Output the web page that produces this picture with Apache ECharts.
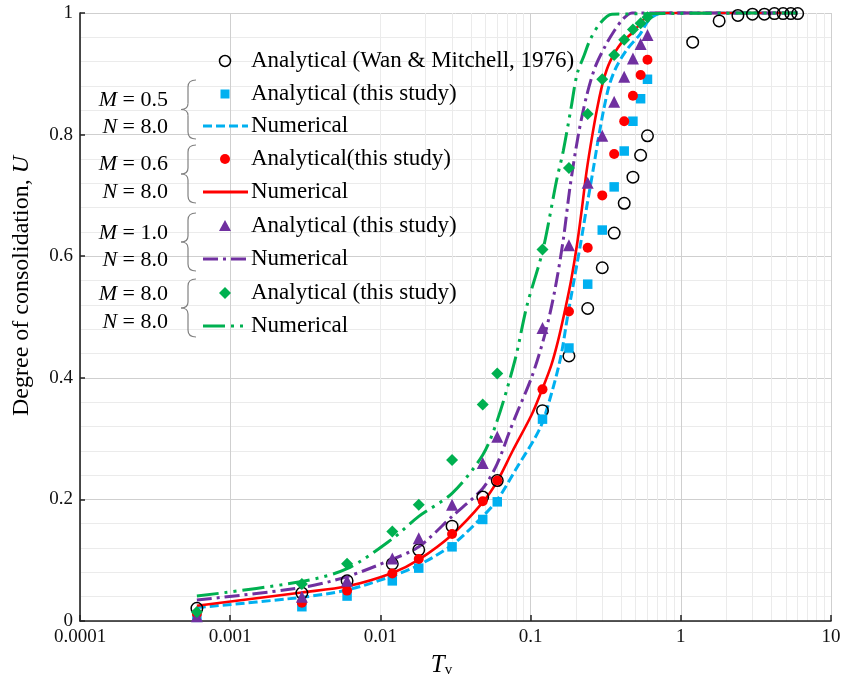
<!DOCTYPE html>
<html>
<head>
<meta charset="utf-8">
<title>Degree of consolidation vs time factor</title>
<script src="https://cdn.jsdelivr.net/npm/echarts@6/dist/echarts.min.js"></script>
<style>
  html, body { margin: 0; padding: 0; background: #fff; }
  #chart { width: 843px; height: 680px; }
</style>
</head>
<body>
<div id="chart"></div>
<script>
// Axis tick labels
const xTickLabels = ['0.0001', '0.001', '0.01', '0.1', '1', '10'];
const yTickLabels = ['0', '0.2', '0.4', '0.6', '0.8', '1'];

// Time factors of the analytical points
const tAnalytical = [0.0006, 0.003, 0.006, 0.012, 0.018, 0.03, 0.048, 0.06, 0.12, 0.18, 0.24, 0.3, 0.36, 0.42, 0.48, 0.54, 0.6];
const tWanMitchell = [0.0006, 0.003, 0.006, 0.012, 0.018, 0.03, 0.048, 0.06, 0.12, 0.18, 0.24, 0.3, 0.36, 0.42, 0.48, 0.54, 0.6,
                      1.2, 1.8, 2.4, 3.0, 3.6, 4.2, 4.8, 5.4, 6.0];

// Analytical degree of consolidation
const uWanMitchell = [0.021, 0.046, 0.066, 0.094, 0.117, 0.156, 0.204, 0.231, 0.346, 0.436, 0.514, 0.581, 0.638, 0.687, 0.730, 0.766, 0.798,
                      0.952, 0.987, 0.996, 0.998, 0.998, 0.999, 0.999, 0.999, 0.999];
const uAnaM05 = [0.006, 0.0235, 0.041, 0.066, 0.087, 0.122, 0.167, 0.196, 0.332, 0.449, 0.554, 0.643, 0.714, 0.773, 0.822, 0.859, 0.891];
const uAnaM06 = [0.012, 0.030, 0.050, 0.078, 0.102, 0.143, 0.197, 0.231, 0.381, 0.509, 0.614, 0.700, 0.768, 0.822, 0.864, 0.898, 0.923];
const uAnaM10 = [0.008, 0.040, 0.066, 0.103, 0.136, 0.191, 0.260, 0.303, 0.482, 0.618, 0.721, 0.798, 0.854, 0.895, 0.925, 0.949, 0.964];
const uAnaM80 = [0.015, 0.061, 0.094, 0.147, 0.191, 0.265, 0.356, 0.407, 0.611, 0.745, 0.834, 0.891, 0.931, 0.956, 0.973, 0.983, 0.993];

// Numerical solutions
const tNumM05 = [0.0006, 0.003, 0.006, 0.012, 0.018, 0.03, 0.048, 0.06, 0.08, 0.1155, 0.138, 0.159, 0.176, 0.1945, 0.215, 0.236, 0.258, 0.281, 0.306, 0.333, 0.37, 0.438, 0.535, 0.62, 0.75, 6];
const uNumM05 = [0.022, 0.039, 0.051, 0.074, 0.092, 0.125, 0.172, 0.199, 0.25, 0.317, 0.375, 0.435, 0.50, 0.56, 0.62, 0.68, 0.735, 0.79, 0.84, 0.88, 0.91, 0.94, 0.965, 0.99, 1.0, 1.0];

const tNumM06 = [0.0006, 0.003, 0.006, 0.012, 0.018, 0.03, 0.048, 0.06, 0.076, 0.102, 0.119, 0.137, 0.152, 0.169, 0.186, 0.204, 0.22, 0.236, 0.258, 0.281, 0.306, 0.338, 0.40, 0.488, 0.57, 0.68, 6];
const uNumM06 = [0.025, 0.047, 0.057, 0.079, 0.101, 0.142, 0.195, 0.230, 0.28, 0.34, 0.38, 0.42, 0.46, 0.51, 0.56, 0.62, 0.68, 0.74, 0.80, 0.85, 0.89, 0.92, 0.95, 0.97, 0.99, 1.0, 1.0];

const tNumM10 = [0.0006, 0.003, 0.006, 0.012, 0.018, 0.03, 0.048, 0.06, 0.073, 0.081, 0.102, 0.125, 0.145, 0.165, 0.183, 0.207, 0.234, 0.268, 0.313, 0.359, 0.412, 0.473, 6];
const uNumM10 = [0.0345, 0.055, 0.073, 0.1015, 0.122, 0.172, 0.218, 0.259, 0.314, 0.342, 0.402, 0.473, 0.544, 0.627, 0.714, 0.797, 0.86, 0.91, 0.945, 0.97, 0.99, 1.0, 1.0];

const tNumM80 = [0.0006, 0.003, 0.006, 0.012, 0.018, 0.03, 0.048, 0.06, 0.0787, 0.0942, 0.121, 0.149, 0.165, 0.186, 0.204, 0.227, 0.249, 0.29, 0.348, 6];
const uNumM80 = [0.041, 0.065, 0.086, 0.135, 0.172, 0.21, 0.273, 0.33, 0.429, 0.517, 0.611, 0.725, 0.773, 0.844, 0.90, 0.93, 0.956, 0.983, 0.998, 1.0];

const colBlue = '#00b0f0';
const colRed = '#ff0000';
const colPurple = '#7030a0';
const colGreen = '#00b050';
const serif = 'Liberation Serif';

const dashBlue = [9, 4];
const dashPurple = [15, 5, 3, 5];
const dashGreen = [22, 6, 3, 6, 3, 6];

const pairs = (t, u) => t.map((v, i) => [v, u[i]]);

// light grid lines at 2..9 within each decade
const minorX = [];
for (let d = -4; d <= 0; d++) {
  for (let k = 2; k <= 9; k++) minorX.push(Number((k * Math.pow(10, d)).toPrecision(3)));
}

const chart = echarts.init(document.getElementById('chart'), null, { renderer: 'canvas' });

function scatter(name, t, u, symbol, size, itemStyle) {
  return {
    name, type: 'scatter', data: pairs(t, u), symbol, symbolSize: size,
    itemStyle: Object.assign({ opacity: 1 }, itemStyle), clip: false, silent: true, z: 3
  };
}
function curve(name, t, u, color, type, width) {
  return {
    name, type: 'line', data: pairs(t, u), showSymbol: false, symbol: 'none',
    smooth: 0.3, clip: false, silent: true, z: 3,
    lineStyle: { color, width, type, cap: 'butt', opacity: 1 }
  };
}

// legend drawn beside the braces
const legendX = 225, lineX1 = 203, lineX2 = 248, textX = 251;
const rows = [61, 94, 126, 159, 192, 226, 259, 293, 326];
const legendTexts = [
  'Analytical (Wan & Mitchell, 1976)',
  'Analytical (this study)',
  'Numerical',
  'Analytical(this study)',
  'Numerical',
  'Analytical (this study)',
  'Numerical',
  'Analytical (this study)',
  'Numerical'
];
const groupLabels = [
  { m: '0.5', n: '8.0', yM: 100, yN: 127, top: 80, bottom: 139 },
  { m: '0.6', n: '8.0', yM: 164, yN: 192, top: 145, bottom: 203 },
  { m: '1.0', n: '8.0', yM: 233, yN: 260, top: 213, bottom: 271 },
  { m: '8.0', n: '8.0', yM: 294, yN: 322, top: 279, bottom: 337 }
];

const graphics = [];
legendTexts.forEach((txt, i) => {
  graphics.push({
    type: 'text', x: textX, y: rows[i], silent: true, z: 10,
    style: { text: txt, fill: '#000', font: '23px "' + serif + '"', verticalAlign: 'middle', align: 'left' }
  });
});
graphics.push(
  { type: 'circle', silent: true, z: 10, shape: { cx: legendX, cy: rows[0], r: 5.5 }, style: { fill: 'none', stroke: '#000', lineWidth: 1.5 } },
  { type: 'rect', silent: true, z: 10, shape: { x: legendX - 4.5, y: rows[1] - 4.5, width: 9, height: 9 }, style: { fill: colBlue } },
  { type: 'line', silent: true, z: 10, shape: { x1: lineX1, y1: rows[2], x2: lineX2, y2: rows[2] }, style: { stroke: colBlue, lineWidth: 3, lineDash: dashBlue } },
  { type: 'circle', silent: true, z: 10, shape: { cx: legendX, cy: rows[3], r: 5 }, style: { fill: colRed } },
  { type: 'line', silent: true, z: 10, shape: { x1: lineX1, y1: rows[4], x2: lineX2, y2: rows[4] }, style: { stroke: colRed, lineWidth: 3 } },
  { type: 'polygon', silent: true, z: 10, shape: { points: [[legendX, rows[5] - 6], [legendX + 6, rows[5] + 5], [legendX - 6, rows[5] + 5]] }, style: { fill: colPurple } },
  { type: 'line', silent: true, z: 10, shape: { x1: lineX1, y1: rows[6], x2: lineX2, y2: rows[6] }, style: { stroke: colPurple, lineWidth: 3, lineDash: dashPurple } },
  { type: 'polygon', silent: true, z: 10, shape: { points: [[legendX, rows[7] - 6], [legendX + 6, rows[7]], [legendX, rows[7] + 6], [legendX - 6, rows[7]]] }, style: { fill: colGreen } },
  { type: 'line', silent: true, z: 10, shape: { x1: lineX1, y1: rows[8], x2: lineX2, y2: rows[8] }, style: { stroke: colGreen, lineWidth: 3, lineDash: dashGreen } }
);

const braceStyle = { fill: 'none', stroke: '#808080', lineWidth: 1.2 };
function bez(x1, y1, cx, cy, x2, y2) {
  return { type: 'bezierCurve', silent: true, z: 10, shape: { x1, y1, cpx1: cx, cpy1: cy, x2, y2 }, style: braceStyle };
}
function seg(x1, y1, x2, y2) {
  return { type: 'line', silent: true, z: 10, shape: { x1, y1, x2, y2 }, style: braceStyle };
}

groupLabels.forEach(g => {
  const rich = {
    i: { fontFamily: serif, fontStyle: 'italic', fontSize: 22, fill: '#000' },
    r: { fontFamily: serif, fontSize: 22, fill: '#000' }
  };
  graphics.push(
    { type: 'text', x: 168, y: g.yM, silent: true, z: 10,
      style: { text: '{i|M}{r| = ' + g.m + '}', rich, align: 'right', verticalAlign: 'middle' } },
    { type: 'text', x: 168, y: g.yN, silent: true, z: 10,
      style: { text: '{i|N}{r| = ' + g.n + '}', rich, align: 'right', verticalAlign: 'middle' } }
  );
  // curly brace
  const xl = 181, xs = 188, xr = 196, ym = (g.top + g.bottom) / 2;
  graphics.push(
    bez(xr, g.top, xs, g.top, xs, g.top + 7),
    seg(xs, g.top + 7, xs, ym - 6),
    bez(xs, ym - 6, xs, ym, xl, ym),
    bez(xl, ym, xs, ym, xs, ym + 6),
    seg(xs, ym + 6, xs, g.bottom - 7),
    bez(xs, g.bottom - 7, xs, g.bottom, xr, g.bottom)
  );
});

// vertical axis title
graphics.push({
  type: 'text', x: 22, y: 286, rotation: Math.PI / 2, silent: true, z: 10,
  style: {
    text: '{a|Degree of consolidation, }{b|U}', align: 'center', verticalAlign: 'middle',
    rich: {
      a: { fontFamily: serif, fontSize: 24, fill: '#000' },
      b: { fontFamily: serif, fontSize: 24, fontStyle: 'italic', fill: '#000' }
    }
  }
});

const option = {
  animation: false,
  backgroundColor: '#fff',
  grid: { left: 80, right: 12, top: 13, bottom: 59, containLabel: false, outerBoundsMode: 'none' },
  xAxis: {
    type: 'log', logBase: 10, min: 0.0001, max: 10,
    axisLine: { show: true, onZero: false, lineStyle: { color: '#222', width: 1.6 } },
    axisTick: { show: true, inside: true, length: 6, lineStyle: { color: '#222', width: 1.5 } },
    axisLabel: {
      fontFamily: serif, fontSize: 19, color: '#111', margin: 7, hideOverlap: false,
      formatter: v => xTickLabels[Math.round(Math.log10(v)) + 4]
    },
    splitLine: { show: true, lineStyle: { color: '#cfcfcf', width: 1 } },
    minorTick: { show: false },
    name: '{t|T}{v|v}',
    nameLocation: 'middle', nameGap: 29,
    nameTextStyle: {
      fontFamily: serif, color: '#000', padding: [0, 28, 0, 0],
      rich: {
        t: { fontFamily: serif, fontStyle: 'italic', fontSize: 25, color: '#000', verticalAlign: 'bottom', lineHeight: 28 },
        v: { fontFamily: serif, fontSize: 15, color: '#000', verticalAlign: 'bottom', lineHeight: 22 }
      }
    }
  },
  yAxis: {
    type: 'value', min: 0, max: 1, interval: 0.2,
    axisLine: { show: true, onZero: false, lineStyle: { color: '#222', width: 1.6 } },
    axisTick: { show: true, inside: true, length: 5, lineStyle: { color: '#222', width: 1.5 } },
    axisLabel: {
      fontFamily: serif, fontSize: 19, color: '#111', margin: 7,
      formatter: v => yTickLabels[Math.round(v * 5)]
    },
    splitLine: { show: true, lineStyle: { color: '#cfcfcf', width: 1 } },
    minorTick: { show: false, splitNumber: 5 },
    minorSplitLine: { show: true, lineStyle: { color: '#ebebeb', width: 1 } }
  },
  graphic: graphics,
  series: [
    {
      name: 'grid-minor', type: 'line', data: [], silent: true, z: 0,
      markLine: {
        silent: true, z: 0, symbol: ['none', 'none'], label: { show: false },
        lineStyle: { color: '#ebebeb', type: 'solid', width: 1 },
        emphasis: { disabled: true },
        data: minorX.map(v => ({ xAxis: v }))
      }
    },
    scatter('Analytical (Wan & Mitchell, 1976)', tWanMitchell, uWanMitchell, 'circle', 11.5,
            { color: 'rgba(0,0,0,0)', borderColor: '#000', borderWidth: 1.5 }),
    scatter('M=0.5 analytical', tAnalytical, uAnaM05, 'rect', 9.5, { color: colBlue }),
    curve('M=0.5 numerical', tNumM05, uNumM05, colBlue, dashBlue, 3),
    scatter('M=0.6 analytical', tAnalytical, uAnaM06, 'circle', 10, { color: colRed }),
    curve('M=0.6 numerical', tNumM06, uNumM06, colRed, 'solid', 2.6),
    scatter('M=1.0 analytical', tAnalytical, uAnaM10, 'triangle', 12, { color: colPurple }),
    curve('M=1.0 numerical', tNumM10, uNumM10, colPurple, dashPurple, 3),
    scatter('M=8.0 analytical', tAnalytical, uAnaM80, 'diamond', 12, { color: colGreen }),
    curve('M=8.0 numerical', tNumM80, uNumM80, colGreen, dashGreen, 3)
  ]
};

chart.setOption(option);
</script>
</body>
</html>
